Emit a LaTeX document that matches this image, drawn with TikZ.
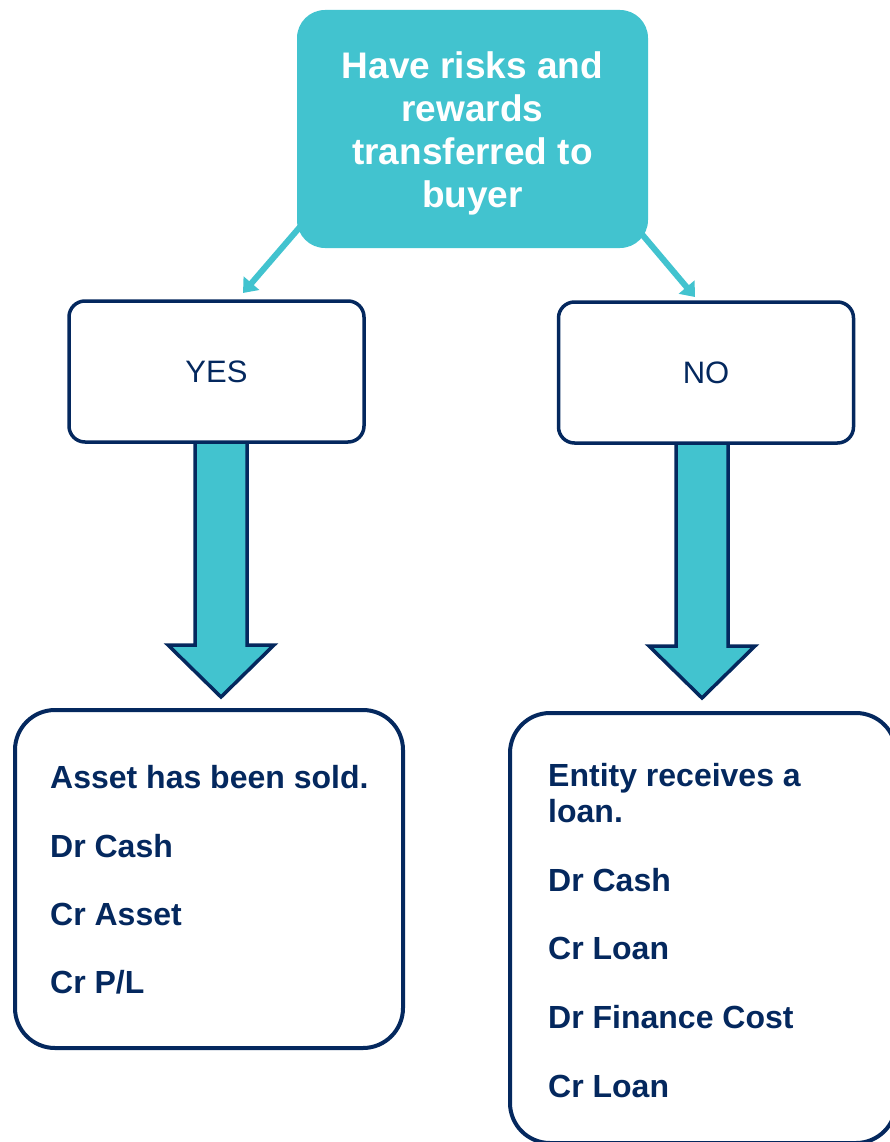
\documentclass[tikz,border=0pt]{standalone}
\usepackage{fontspec}
\setmainfont{Liberation Sans}
\usetikzlibrary{arrows.meta,backgrounds,calc}
\definecolor{tealfill}{RGB}{66,195,207}
\definecolor{deepnavy}{RGB}{4,40,94}
\begin{document}
\begin{tikzpicture}[x=1pt,y=-1pt,
  topbox/.style={fill=tealfill, rounded corners=28pt, minimum width=351pt,
    minimum height=238pt, inner sep=0pt, outer sep=0pt},
  toptext/.style={inner sep=0pt, text=white,
    font=\fontsize{37}{43}\selectfont\bfseries, align=center},
  answer/.style={draw=deepnavy, line width=3.5pt, rounded corners=16pt,
    minimum width=295pt, minimum height=141pt, inner sep=0pt, outer sep=0pt,
    text=deepnavy, font=\fontsize{31}{37}\selectfont},
  result/.style={draw=deepnavy, line width=4pt, rounded corners=40pt,
    inner sep=0pt, outer sep=0pt},
  entry/.style={anchor=base west, inner sep=0pt, text=deepnavy,
    font=\fontsize{32}{37}\selectfont\bfseries, align=left},
  thinarrow/.style={draw=tealfill, line width=6pt,
    -{Triangle[width=20pt,length=13pt]}},
  blockarrow/.style={fill=tealfill, draw=deepnavy, line width=3.5pt,
    line join=miter},
  downarrow/.pic={
    \path[blockarrow] (-26,0) -- (-26,203) -- (-53,203) -- (0,255)
      -- (53,203) -- (26,203) -- (26,0);
  }
]
\useasboundingbox (0,0) rectangle (890,1142);
\clip (0,0) rectangle (890,1142);

% question box and its wording
\node[topbox] (top) at (472.5,129) {};
\node[toptext] (question) at (472.5,133)
  {Have risks and\\rewards\\transferred to\\buyer};

% the two answers
\node[answer] (yes) at (216.5,371.5) {YES};
\node[answer] (no) at (706,372.5) {NO};

% outcome boxes
\node[result, minimum width=388pt, minimum height=338pt] (sold) at (209,879) {};
\node[result, minimum width=386pt, minimum height=430pt] (loan) at (703,928) {};

% entries, asset sold
\node[entry] (s1) at (50,788) {Asset has been sold.};
\node[entry] (s2) at (50,857) {Dr Cash};
\node[entry] (s3) at (50,925) {Cr Asset};
\node[entry] (s4) at (50,993) {Cr P/L};

% entries, loan received
\node[entry] (l1) at (548,786) {Entity receives a};
\node[entry] (l2) at (548,822) {loan.};
\node[entry] (l3) at (548,891) {Dr Cash};
\node[entry] (l4) at (548,959) {Cr Loan};
\node[entry] (l5) at (548,1028) {Dr Finance Cost};
\node[entry] (l6) at (548,1097) {Cr Loan};

% connectors sit behind the boxes
\begin{scope}[on background layer]
  \coordinate (ls) at ($(top.south west)+(21,-42)$);
  \coordinate (le) at (243,293);
  \coordinate (rs) at ($(top.south east)+(-24,-35)$);
  \coordinate (re) at (695,297);
  \draw[thinarrow] (ls) -- (le);
  \draw[thinarrow] (rs) -- (re);
  \pic at ($(yes.south)+(4.5,0)$) {downarrow};
  \pic at ($(no.south)+(-4,0)$) {downarrow};
\end{scope}
\end{tikzpicture}
\end{document}
